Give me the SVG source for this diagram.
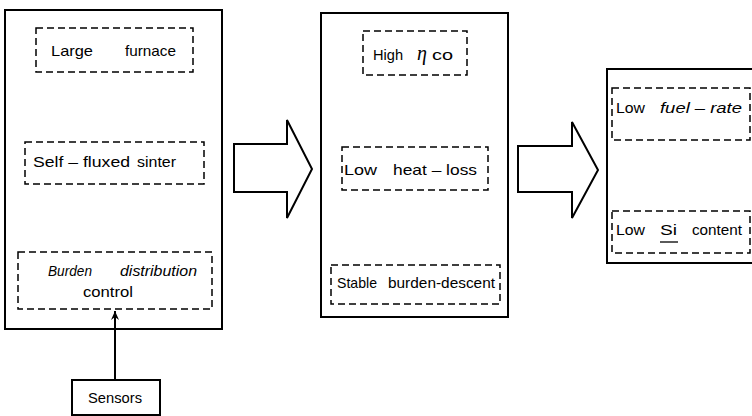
<svg xmlns="http://www.w3.org/2000/svg" width="752" height="416" viewBox="0 0 752 416">
<style>
.box{fill:none;stroke:#000;stroke-width:2}
.dash{fill:none;stroke:#000;stroke-width:1.5;stroke-dasharray:7 4}
.big{fill:#fff;stroke:#000;stroke-width:2;stroke-linejoin:miter}
.t{font-family:"Liberation Sans","DejaVu Sans",sans-serif;font-size:15px;fill:#000}
.i{font-style:italic}
.conn{stroke:#000;stroke-width:2;fill:none}
</style>
<defs>
<marker id="ah" markerWidth="10" markerHeight="10" refX="9" refY="5" orient="auto" markerUnits="userSpaceOnUse">
<path d="M0,1 L9,5 L0,9 L3,5 Z" fill="#000"/>
</marker>
</defs>
<rect width="752" height="416" fill="#fff"/>

<g id="causes">
<rect class="box" x="5" y="10" width="217" height="319"/>
<g id="large-furnace">
<rect class="dash" x="36" y="28" width="157" height="44"/>
<text class="t" x="51" y="56" textLength="42" lengthAdjust="spacingAndGlyphs">Large</text>
<text class="t" x="125" y="56" textLength="51" lengthAdjust="spacingAndGlyphs">furnace</text>
</g>
<g id="self-fluxed-sinter">
<rect class="dash" x="25" y="142" width="179" height="42"/>
<text class="t" x="33" y="167" textLength="97" lengthAdjust="spacingAndGlyphs">Self – fluxed</text>
<text class="t" x="137" y="167" textLength="39" lengthAdjust="spacingAndGlyphs">sinter</text>
</g>
<g id="burden-distribution">
<rect class="dash" x="18" y="252" width="194" height="57"/>
<text class="t i" x="48" y="276" textLength="44" lengthAdjust="spacingAndGlyphs">Burden</text>
<text class="t i" x="120" y="276" textLength="77" lengthAdjust="spacingAndGlyphs">distribution</text>
<text class="t" x="83" y="297" textLength="50" lengthAdjust="spacingAndGlyphs">control</text>
</g>
</g>

<g id="sensors">
<rect class="box" x="72" y="380" width="88" height="35"/>
<text class="t" x="88" y="403" textLength="54" lengthAdjust="spacingAndGlyphs">Sensors</text>
</g>

<g id="effects">
<rect class="box" x="321" y="13" width="187" height="304"/>
<g id="high-eta-co">
<rect class="dash" x="363" y="31" width="104" height="44"/>
<text class="t" x="373" y="60" textLength="30" lengthAdjust="spacingAndGlyphs">High</text>
<text x="417" y="60" style="font-family:'Liberation Serif','DejaVu Serif',serif;font-style:italic;font-size:20px">η</text>
<text class="t" x="432" y="60" textLength="21" lengthAdjust="spacingAndGlyphs">co</text>
</g>
<g id="low-heat-loss">
<rect class="dash" x="342" y="147" width="146" height="43"/>
<text class="t" x="344" y="175" textLength="33" lengthAdjust="spacingAndGlyphs">Low</text>
<text class="t" x="393" y="175" textLength="84" lengthAdjust="spacingAndGlyphs">heat – loss</text>
</g>
<g id="stable-burden-descent">
<rect class="dash" x="331" y="265" width="169" height="39"/>
<text class="t" x="337" y="288" textLength="40" lengthAdjust="spacingAndGlyphs">Stable</text>
<text class="t" x="388" y="288" textLength="107" lengthAdjust="spacingAndGlyphs">burden-descent</text>
</g>
</g>

<g id="results">
<rect class="box" x="607" y="69" width="150" height="194"/>
<g id="low-fuel-rate">
<rect class="dash" x="612" y="88" width="138" height="52"/>
<text class="t" x="616" y="113" textLength="29" lengthAdjust="spacingAndGlyphs">Low</text>
<text class="t i" x="660" y="113" textLength="82" lengthAdjust="spacingAndGlyphs">fuel – rate</text>
</g>
<g id="low-si-content">
<rect class="dash" x="612" y="211" width="138" height="42"/>
<text class="t" x="616" y="235" textLength="29" lengthAdjust="spacingAndGlyphs">Low</text>
<text class="t" x="660" y="235" textLength="17" lengthAdjust="spacingAndGlyphs">Si</text>
<line x1="660" y1="242" x2="678" y2="242" stroke="#000" stroke-width="1.3"/>
<text class="t" x="692" y="235" textLength="50" lengthAdjust="spacingAndGlyphs">content</text>
</g>
</g>

<g id="connectors">
<polygon class="big" points="234,144 287,144 287,120 312,169 287,218 287,192 234,192"/>
<polygon class="big" points="518,146 572,146 572,122 598,170 572,218 572,192 518,192"/>
<line class="conn" x1="115" y1="380" x2="115" y2="311" marker-end="url(#ah)"/>
</g>
</svg>
